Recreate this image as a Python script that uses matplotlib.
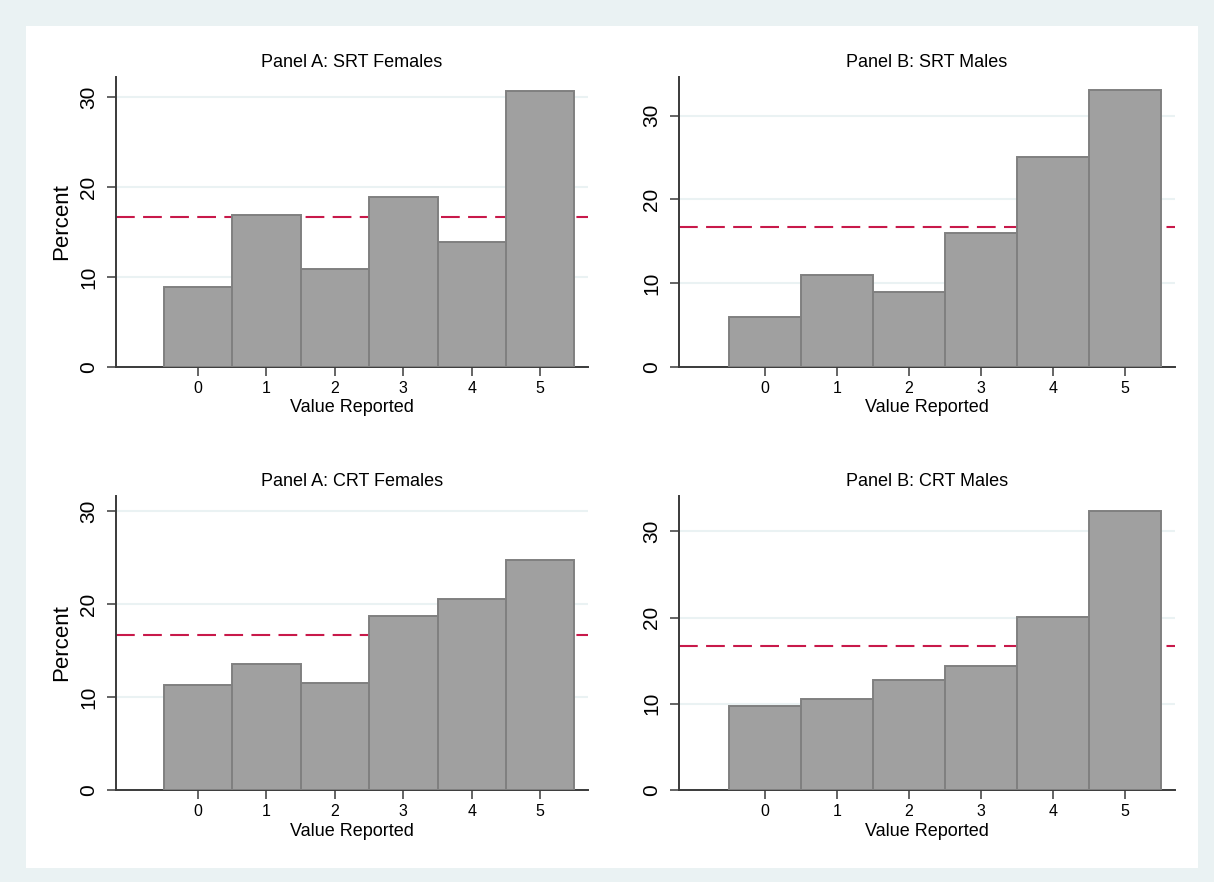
import matplotlib.pyplot as plt
from matplotlib.patches import Rectangle

plt.rcParams['font.family'] = ['Liberation Sans', 'DejaVu Sans']

# Share of subjects reporting each value (percent)
values = [0, 1, 2, 3, 4, 5]
srt_females = [8.9, 16.9, 10.9, 18.9, 13.9, 30.7]
srt_males = [6.0, 11.0, 9.0, 16.0, 25.0, 33.0]
crt_females = [11.3, 13.5, 11.5, 18.7, 20.5, 24.7]
crt_males = [9.8, 10.6, 12.8, 14.4, 20.1, 32.4]
uniform_share = 100 / 6

titles = ["Panel A: SRT Females", "Panel B: SRT Males",
          "Panel A: CRT Females", "Panel B: CRT Males"]
series = [srt_females, srt_males, crt_females, crt_males]
ytops = [32.2, 34.6, 31.6, 34.1]

W, H = 1214, 882
fig = plt.figure(figsize=(W / 100, H / 100), dpi=100)
fig.patch.set_facecolor('#EAF2F3')
fig.add_artist(Rectangle((26 / W, 1 - 868 / H), 1172 / W, 842 / H,
                         transform=fig.transFigure, facecolor='white',
                         edgecolor='none', zorder=-1))

# axes boxes in pixels: left, top, right, bottom
boxes = [(116, 77, 588, 367), (679, 77, 1175, 367),
         (116, 496, 588, 790), (679, 496, 1175, 790)]

axis_col = '#3a3a3a'
for i, (box, data, title, ytop) in enumerate(zip(boxes, series, titles, ytops)):
    l, t, r, b = box
    ax = fig.add_axes([l / W, 1 - b / H, (r - l) / W, (b - t) / H])
    ax.set_facecolor('white')
    ax.bar(values, data, width=1, color='#A0A0A0', edgecolor='#808080',
           linewidth=1.4, zorder=3)
    ax.axhline(uniform_share, color='#C8194A', lw=1.5, dashes=(9, 4), zorder=2)

    ax.set_xlim(-1.2, 5.7)
    ax.set_ylim(0, ytop)
    ax.set_xticks(values)
    ax.set_yticks([0, 10, 20, 30])
    ax.yaxis.grid(True, color='#EAF2F3', lw=1.5)
    ax.set_axisbelow(True)

    for s in ['top', 'right']:
        ax.spines[s].set_visible(False)
    for s in ['left', 'bottom']:
        ax.spines[s].set_color(axis_col)
        ax.spines[s].set_linewidth(1.4)

    ax.tick_params(axis='both', length=6.5, width=1.1, color=axis_col)
    ax.tick_params(axis='x', labelsize=11.5, pad=3.5)
    ax.tick_params(axis='y', labelsize=15, pad=6.5, labelrotation=90)
    for lab in ax.get_yticklabels():
        lab.set_va('center')

    ax.set_title(title, fontsize=13, pad=7.5)
    ax.set_xlabel("Value Reported", fontsize=13)
    ax.xaxis.set_label_coords(0.5, -41 / (b - t))
    ax.xaxis.label.set_va('center')
    if i % 2 == 0:
        ax.set_ylabel("Percent", fontsize=16)
        ax.yaxis.set_label_coords((62 - l) / (r - l), 0.5)
        ax.yaxis.label.set_va('center')

fig.savefig('out.png', dpi=100, facecolor=fig.get_facecolor())
